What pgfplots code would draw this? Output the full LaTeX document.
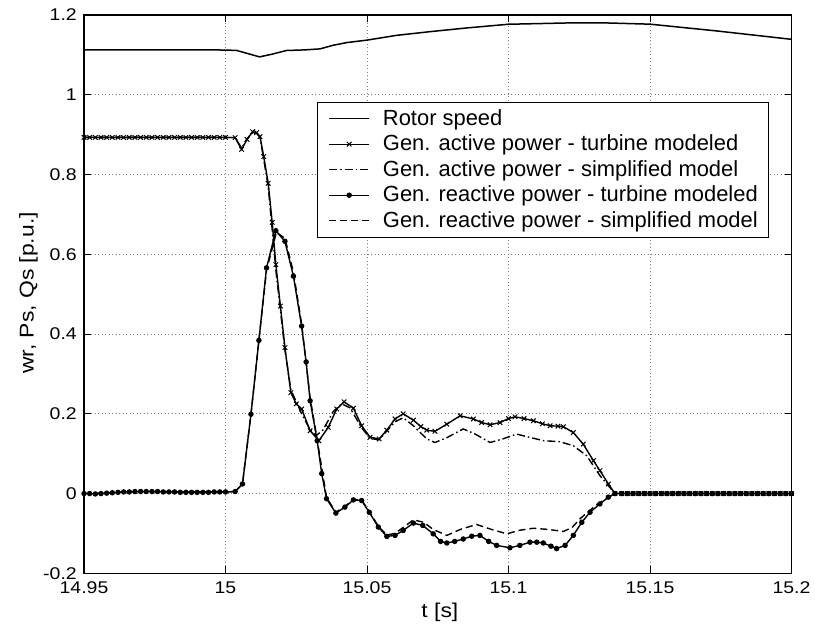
\documentclass[border=0pt]{standalone}
\usepackage{fontspec}
\setmainfont{Liberation Sans}
\newfontfamily\widefont{Liberation Sans}[FakeStretch=1.15]
\usepackage{pgfplots}
\pgfplotsset{compat=1.18}
\begin{document}
\begin{tikzpicture}
\path[use as bounding box] (0,0) rectangle (815bp,630bp);
\begin{axis}[
 at={(84bp,56.7bp)}, anchor=south west,
 scale only axis, width=707.5bp, height=558.3bp,
 xmin=14.95, xmax=15.2, ymin=-0.2, ymax=1.2,
 xtick={14.95,15,15.05,15.1,15.15,15.2},
 xticklabels={14.95,15,15.05,15.1,15.15,15.2},
 ytick={-0.2,0,0.2,0.4,0.6,0.8,1,1.2},
 yticklabels={-0.2,0,0.2,0.4,0.6,0.8,1,1.2},
 tick align=inside, major tick length=7bp,
 tick style={black, line width=0.9bp},
 axis line style={line width=1.2bp},
 grid=major,
 major grid style={black!50, line width=0.6bp, dash pattern=on 1bp off 2.5bp},
 ticklabel style={font=\widefont\fontsize{17}{20}\selectfont},
 yticklabel style={anchor=east, inner sep=0pt, xshift=-7bp},
 xticklabel style={anchor=north, inner sep=0pt, yshift=-8bp},
 xlabel={t [s]}, ylabel={wr, Ps, Qs [p.u.]},
 label style={font=\widefont\fontsize{20}{24}\selectfont},
 xlabel style={at={(axis description cs:0.503,-0.0705)}, anchor=center},
 ylabel style={at={(axis description cs:-0.0784,0.502)}, anchor=center},
 legend cell align=left,
 legend style={at={(axis description cs:0.3295,0.8444)}, anchor=north west,
   draw=black, line width=0.7bp, fill=white,
   font=\fontsize{22}{25}\selectfont,
   inner xsep=11bp, inner ysep=5bp, row sep=2.5bp,
   nodes={inner sep=0pt, text height=18bp, text depth=5bp},
   /tikz/every odd column/.append style={column sep=13bp}},
 legend image code/.code={\draw[mark repeat=2,mark phase=2,#1] plot coordinates {(0bp,0bp) (20bp,0bp) (40bp,0bp)};},
]
% Rotor speed
\addplot[black, line width=1.5bp] coordinates {
(14.950,1.1125) (14.970,1.1125) (14.990,1.1123) (15.000,1.1122) (15.004,1.1110)
(15.008,1.1030) (15.012,1.0950) (15.016,1.1010) (15.0216,1.1110) (15.028,1.1125)
(15.0334,1.1150) (15.038,1.1240) (15.043,1.1310) (15.050,1.1370) (15.0605,1.1490)
(15.072,1.1580) (15.0852,1.1675) (15.100,1.1768) (15.1206,1.1800) (15.135,1.1800)
(15.150,1.1770) (15.1736,1.1600) (15.200,1.1390)
};
\addlegendentry{Rotor speed}
% Active power - turbine modeled
\addplot[black, line width=1.4bp, mark=x, mark size=3.2bp, mark options={solid, line width=1bp}] coordinates {
(14.950,0.893) (14.952,0.893) (14.954,0.893) (14.956,0.893) (14.958,0.893)
(14.960,0.893) (14.962,0.893) (14.964,0.893) (14.966,0.893) (14.968,0.893)
(14.970,0.893) (14.972,0.893) (14.974,0.893) (14.976,0.893) (14.978,0.893)
(14.980,0.893) (14.982,0.893) (14.984,0.893) (14.986,0.893) (14.988,0.893)
(14.990,0.893) (14.992,0.893) (14.994,0.893) (14.996,0.893) (14.998,0.893)
(15.0000,0.893) (15.0034,0.8925) (15.0057,0.863) (15.0076,0.888) (15.0096,0.9075)
(15.0110,0.905) (15.0122,0.895) (15.0135,0.845) (15.0151,0.778) (15.0165,0.680)
(15.0178,0.574) (15.0194,0.470) (15.0210,0.366) (15.0231,0.253) (15.0250,0.225)
(15.0269,0.212) (15.0299,0.1575) (15.0330,0.1325) (15.0363,0.166) (15.0393,0.212)
(15.0419,0.230) (15.0452,0.214) (15.0481,0.170) (15.0511,0.141) (15.0543,0.137)
(15.0570,0.159) (15.0599,0.187) (15.0628,0.200) (15.0664,0.184) (15.0690,0.168)
(15.0711,0.159) (15.0740,0.156) (15.0782,0.174) (15.0829,0.195) (15.0876,0.187)
(15.0905,0.178) (15.0935,0.1725) (15.0970,0.178) (15.1000,0.188) (15.1023,0.1925)
(15.1055,0.188) (15.1088,0.1825) (15.1120,0.175) (15.1147,0.170) (15.1175,0.169)
(15.1194,0.1675) (15.1229,0.153) (15.1264,0.124) (15.1300,0.0825) (15.1323,0.0575)
(15.1353,0.024) (15.1376,0.000)
(15.140,0) (15.142,0) (15.144,0) (15.146,0) (15.148,0) (15.150,0) (15.152,0)
(15.154,0) (15.156,0) (15.158,0) (15.160,0) (15.162,0) (15.164,0) (15.166,0)
(15.168,0) (15.170,0) (15.172,0) (15.174,0) (15.176,0) (15.178,0) (15.180,0)
(15.182,0) (15.184,0) (15.186,0) (15.188,0) (15.190,0) (15.192,0) (15.194,0)
(15.196,0) (15.198,0) (15.200,0)
};
\addlegendentry{Gen. active power - turbine modeled}
% Active power - simplified model
\addplot[black, line width=1.4bp, dash pattern=on 8bp off 3bp on 1.5bp off 3bp] coordinates {
(14.950,0.893) (15.0000,0.893) (15.0034,0.8925) (15.0057,0.866) (15.0076,0.890)
(15.0096,0.905) (15.0110,0.903) (15.0122,0.893) (15.0151,0.770) (15.0178,0.560)
(15.0210,0.360) (15.0231,0.260) (15.0269,0.200) (15.0299,0.160) (15.0320,0.145)
(15.0345,0.160) (15.0380,0.205) (15.0410,0.225) (15.0440,0.215) (15.0481,0.165)
(15.0511,0.138) (15.0543,0.135) (15.0599,0.180) (15.0628,0.190) (15.0664,0.170)
(15.0711,0.137) (15.0740,0.128) (15.0782,0.140) (15.0840,0.162) (15.0880,0.150)
(15.0935,0.128) (15.0980,0.137) (15.1029,0.149) (15.1080,0.140) (15.1124,0.1325)
(15.1180,0.130) (15.1229,0.120) (15.1276,0.095) (15.1323,0.045) (15.1376,0.000)
(15.200,0.000)
};
\addlegendentry{Gen. active power - simplified model}
% Reactive power - turbine modeled
\addplot[black, line width=1.4bp, mark=*, mark size=2bp, mark options={solid, fill=black}] coordinates {
(14.950,0.000) (14.952,0.000) (14.954,-0.001) (14.956,0.000) (14.958,0.001)
(14.960,0.002) (14.962,0.003) (14.964,0.004) (14.966,0.004) (14.968,0.005)
(14.970,0.005) (14.972,0.005) (14.974,0.005) (14.976,0.005) (14.978,0.004)
(14.980,0.004) (14.982,0.004) (14.984,0.003) (14.986,0.003) (14.988,0.003)
(14.990,0.003) (14.992,0.003) (14.994,0.003) (14.996,0.004) (14.998,0.004)
(15.0000,0.004) (15.0034,0.005) (15.0060,0.024) (15.0090,0.199) (15.0118,0.384)
(15.0145,0.566) (15.0178,0.659) (15.0210,0.6325) (15.0240,0.545) (15.0269,0.420)
(15.0285,0.330) (15.0299,0.2325) (15.0324,0.1325) (15.0340,0.050) (15.0357,-0.013)
(15.0390,-0.049) (15.0422,-0.034) (15.0452,-0.016) (15.0481,-0.0175) (15.0508,-0.047)
(15.0540,-0.084) (15.0570,-0.1075) (15.0599,-0.105) (15.0628,-0.0925) (15.0664,-0.074)
(15.0697,-0.080) (15.0734,-0.101) (15.0760,-0.120) (15.0782,-0.124) (15.0810,-0.120)
(15.0840,-0.114) (15.0870,-0.107) (15.0899,-0.105) (15.0930,-0.120) (15.0958,-0.130)
(15.1005,-0.136) (15.1040,-0.130) (15.1076,-0.122) (15.1100,-0.122) (15.1123,-0.124)
(15.1150,-0.132) (15.1170,-0.138) (15.1200,-0.130) (15.1229,-0.105) (15.1259,-0.072)
(15.1288,-0.047) (15.1323,-0.026) (15.1353,-0.009) (15.1376,0.000)
(15.140,0) (15.142,0) (15.144,0) (15.146,0) (15.148,0) (15.150,0) (15.152,0)
(15.154,0) (15.156,0) (15.158,0) (15.160,0) (15.162,0) (15.164,0) (15.166,0)
(15.168,0) (15.170,0) (15.172,0) (15.174,0) (15.176,0) (15.178,0) (15.180,0)
(15.182,0) (15.184,0) (15.186,0) (15.188,0) (15.190,0) (15.192,0) (15.194,0)
(15.196,0) (15.198,0) (15.200,0)
};
\addlegendentry{Gen. reactive power - turbine modeled}
% Reactive power - simplified model
\addplot[black, line width=1.4bp, dash pattern=on 7bp off 4bp] coordinates {
(14.950,0.000) (14.970,0.005) (15.0000,0.004) (15.0034,0.005) (15.0060,0.024)
(15.0090,0.199) (15.0118,0.384) (15.0145,0.560) (15.0180,0.655) (15.0210,0.640)
(15.0240,0.555) (15.0269,0.425) (15.0299,0.240) (15.0324,0.135) (15.0357,-0.010)
(15.0390,-0.047) (15.0422,-0.032) (15.0452,-0.015) (15.0481,-0.016) (15.0508,-0.045)
(15.0540,-0.082) (15.0570,-0.104) (15.0599,-0.100) (15.0628,-0.085) (15.0664,-0.066)
(15.0700,-0.072) (15.0734,-0.090) (15.0782,-0.105) (15.0830,-0.090) (15.0887,-0.0775)
(15.0940,-0.090) (15.0994,-0.101) (15.1040,-0.092) (15.1088,-0.087) (15.1140,-0.090)
(15.1194,-0.095) (15.1225,-0.085) (15.1253,-0.063) (15.1312,-0.0275) (15.1376,0.000)
(15.200,0.000)
};
\addlegendentry{Gen. reactive power - simplified model}
\end{axis}
\end{tikzpicture}
\end{document}
